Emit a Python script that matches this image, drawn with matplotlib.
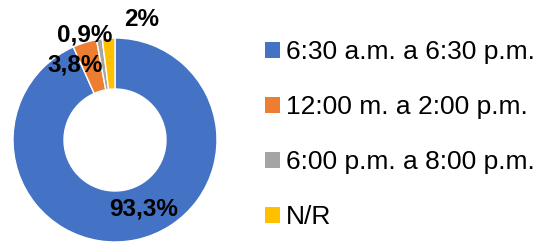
import matplotlib
matplotlib.use("Agg")
import matplotlib.pyplot as plt
from matplotlib.patches import Patch

plt.rcParams['font.family'] = ['Liberation Sans', 'DejaVu Sans']

# Data
categories = ['6:30 a.m. a 6:30 p.m.', '12:00 m. a 2:00 p.m.', '6:00 p.m. a 8:00 p.m.', 'N/R']
values = [93.3, 3.8, 0.9, 2.0]
labels = ['93,3%', '3,8%', '0,9%', '2%']
colors = ['#4472C4', '#ED7D31', '#A5A5A5', '#FFC000']

# label spots (data units, pie radius = 1)
label_pos = [(0.284, -0.676), (-0.392, 0.735), (-0.294, 1.03), (0.265, 1.186)]

fig = plt.figure(figsize=(5.38, 2.43), dpi=100)
ax = fig.add_axes([0, 0, 230 / 538, 1])

wedges, _ = ax.pie(values, colors=colors, startangle=90, counterclock=False,
                   radius=1.0, wedgeprops=dict(width=0.5, edgecolor='white', linewidth=1))

for (x, y), txt in zip(label_pos, labels):
    ax.text(x, y, txt, ha='center', va='center', fontsize=17.5, fontweight='bold', color='black')

ax.set_aspect('auto')
ax.set_xlim(-115 / 102, 115 / 102)
ax.set_ylim(-103 / 102, 140 / 102)
ax.axis('off')

handles = [Patch(facecolor=c, edgecolor='none') for c in colors]
fig.legend(handles, categories, loc='upper left', bbox_to_anchor=(265 / 538, 1 - 40 / 243),
           frameon=False, fontsize=19, handlelength=0.55, handleheight=0.55,
           handletextpad=0.25, labelspacing=1.18, borderpad=0, borderaxespad=0)

fig.savefig('out.png', dpi=100)
